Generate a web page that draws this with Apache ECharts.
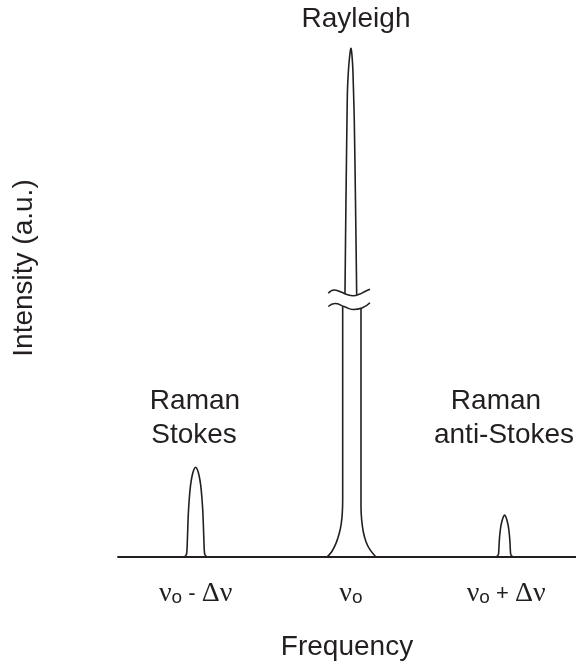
<!DOCTYPE html>
<html>
<head>
<meta charset="utf-8">
<script src="https://cdn.jsdelivr.net/npm/echarts@6/dist/echarts.min.js"></script>
<style>
  html, body { margin: 0; padding: 0; background: #ffffff; }
  #chart { width: 576px; height: 670px; }
</style>
</head>
<body>
<div id="chart"></div>
<script>
// Frequency axis: offset from the laser line νo, with Δν = 100.
// Intensity axis: arbitrary units, Rayleigh peak top = 100 (drawn with a break).

// Raman Stokes band (νo - Δν)
const stokesX = [-107.09, -105.99, -105.60, -105.35, -105.02, -104.64, -103.99, -103.22, -102.25, -101.16, -100.00,
                 -98.84, -97.75, -96.78, -96.01, -95.36, -94.98, -94.65, -94.40, -94.01, -92.91];
const stokesY = [0, 0.39, 1.18, 2.95, 5.90, 8.85, 11.79, 14.15, 15.92, 17.10, 17.57,
                 17.10, 15.92, 14.15, 11.79, 8.85, 5.90, 2.95, 1.18, 0.39, 0];

// Raman anti-Stokes band (νo + Δν)
const antiX = [93.85, 94.94, 95.26, 95.52, 95.91, 96.55, 97.39, 98.23, 99.00,
               99.77, 100.61, 101.45, 102.09, 102.48, 102.74, 103.06, 104.15];
const antiY = [0, 0.39, 1.18, 2.75, 4.32, 5.90, 7.08, 7.86, 8.20,
               7.86, 7.08, 5.90, 4.32, 2.75, 1.18, 0.39, 0];

// Rayleigh line, lower part (below the break): left flank then right flank
const rayLowLeftX = [-15.20, -12.37, -9.60, -7.47, -6.18, -5.54, -5.28, -5.28];
const rayLowLeftY = [0, 0.98, 2.63, 4.60, 6.57, 8.53, 11.15, 49.25];
const rayLowRightX = [6.51, 6.51, 6.96, 7.99, 9.73, 12.30, 15.97];
const rayLowRightY = [48.87, 9.83, 7.21, 4.91, 2.95, 1.38, 0];

// Rayleigh line, upper part (above the break) up to the peak
const rayTopX = [-3.80, -3.16, -2.51, -2.19, -1.55, -0.90, -0.32, 0, 0.39, 0.84, 1.29, 1.67, 2.19, 2.96, 3.74];
const rayTopY = [51.72, 70.12, 85.85, 91.74, 95.68, 98.03, 99.51, 100, 99.51, 98.03, 95.68, 91.74, 85.85, 70.12, 51.48];

// Axis-break marks across the Rayleigh line
const breakUpperX = [-14.56, -10.89, -6.38, -2.51, 1.55, 5.86, 9.08, 12.30];
const breakUpperY = [51.78, 52.43, 52.03, 51.54, 51.31, 51.64, 52.13, 52.57];
const breakLowerX = [-14.56, -10.24, -4.44, 1.55, 7.15, 12.30];
const breakLowerY = [49.18, 49.77, 49.18, 48.59, 48.89, 49.93];

// Tick positions and labels on the frequency axis
const tickValues = [-100, 0, 100];
const tickLabels = ['{nu|ν}{sub|o}{op| - }{nu|Δν}', '{nu|ν}{sub|o}', '{nu|ν}{sub|o}{op| + }{nu|Δν}'];

const ink = '#231f20';
const sans = '"Liberation Sans", Arial, Helvetica, sans-serif';
const serif = '"Liberation Serif", "Times New Roman", serif';
const labelFont = '28px ' + sans;

function zip(xs, ys) { return xs.map((x, i) => [x, ys[i]]); }

function curve(name, xs, ys, smooth) {
  return {
    type: 'line', name: name, data: zip(xs, ys),
    showSymbol: false, smooth: smooth, silent: true,
    lineStyle: { color: ink, width: 1.6 },
    z: 3
  };
}

function note(text, x, y, rotation) {
  return {
    type: 'text', x: x, y: y, rotation: rotation || 0,
    style: { text: text, font: labelFont, fill: ink, align: 'center', verticalAlign: 'middle' }
  };
}

const chart = echarts.init(document.getElementById('chart'), null, { renderer: 'canvas' });

chart.setOption({
  backgroundColor: '#ffffff',
  animation: false,
  grid: { left: 118, right: 0, top: 48, bottom: 113.3, containLabel: false },
  xAxis: {
    type: 'value', min: -150, max: 145,
    axisLine: { show: true, lineStyle: { color: ink, width: 1.8 } },
    axisTick: { show: false },
    splitLine: { show: false },
    axisLabel: {
      customValues: tickValues,
      margin: 23,
      formatter: v => tickLabels[tickValues.indexOf(v)],
      rich: {
        nu: { fontFamily: serif, fontSize: 28, color: ink },
        sub: { fontFamily: sans, fontSize: 19, color: ink, padding: [9, 0, 0, 0] },
        op: { fontFamily: sans, fontSize: 22, color: ink }
      }
    },
    name: 'Frequency',
    nameLocation: 'middle',
    nameGap: 77,
    nameTextStyle: { fontFamily: sans, fontSize: 28, color: ink }
  },
  yAxis: {
    type: 'value', min: 0, max: 100,
    axisLine: { show: false }, axisTick: { show: false },
    axisLabel: { show: false }, splitLine: { show: false }
  },
  graphic: [
    note('Rayleigh', 356, 19),
    note('Raman', 195, 401),
    note('Stokes', 194, 435),
    note('Raman', 496, 401),
    note('anti-Stokes', 504, 435),
    note('Intensity (a.u.)', 24, 268, Math.PI / 2)
  ],
  series: [
    curve('Raman Stokes', stokesX, stokesY, 0.35),
    curve('Raman anti-Stokes', antiX, antiY, 0.35),
    curve('Rayleigh lower left', rayLowLeftX, rayLowLeftY, 0.35),
    curve('Rayleigh lower right', rayLowRightX, rayLowRightY, 0.35),
    curve('Rayleigh', rayTopX, rayTopY, 0.3),
    curve('break upper', breakUpperX, breakUpperY, 0.5),
    curve('break lower', breakLowerX, breakLowerY, 0.5)
  ]
});
</script>
</body>
</html>
